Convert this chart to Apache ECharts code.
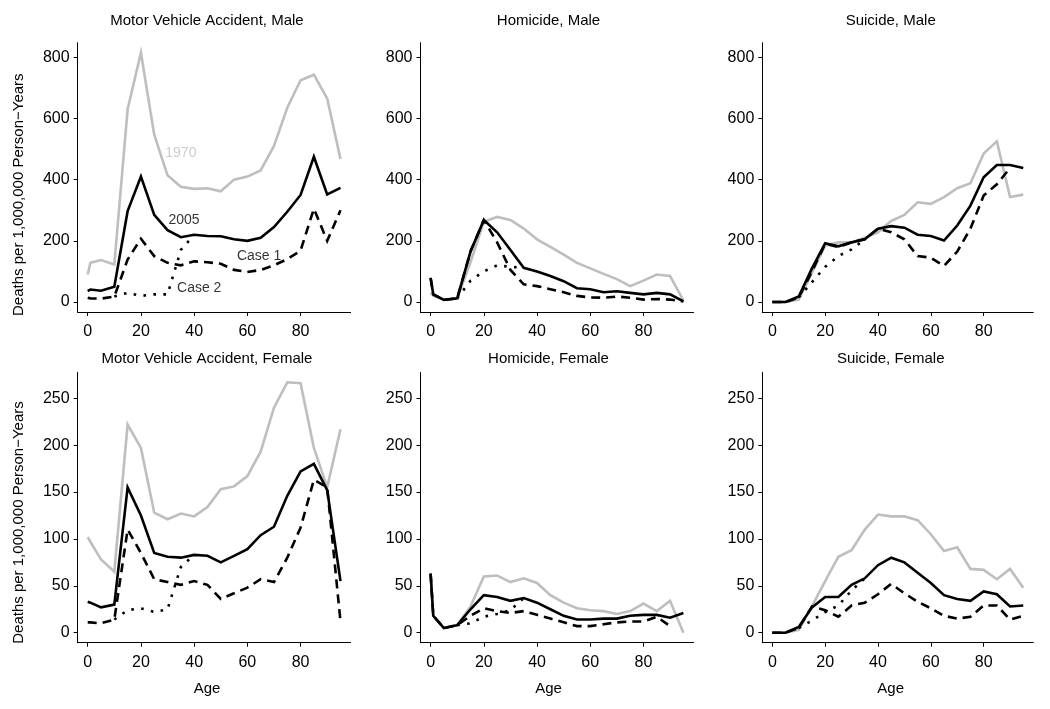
<!DOCTYPE html>
<html>
<head>
<meta charset="utf-8">
<script src="https://cdn.jsdelivr.net/npm/echarts@6/dist/echarts.min.js"></script>
<style>
html,body{margin:0;padding:0;background:#fff;}
#chart{width:1050px;height:709px;}
</style>
</head>
<body>
<div id="chart"></div>
<script>
// ---- data ----
const ages = [0,1,5,10,15,20,25,30,35,40,45,50,55,60,65,70,75,80,85,90,95];

const mvaMale1970  = [90,128,137,123,630,815,547,414,377,370,372,362,400,410,430,510,635,725,743,665,467];
const mvaMale2005  = [36,41,37,50,297,410,285,235,212,220,216,215,205,200,210,245,295,350,475,352,373];
const mvaMaleCase1 = [14,12,11,18,139,207,150,128,120,133,130,125,105,98,105,120,140,168,305,200,300];
const mvaMaleCase2 = [null,null,null,18,30,20,25,25,170,220,null,null,null,null,null,null,null,null,null,null,null];

const homMale1970  = [30,20,8,12,130,262,278,268,240,205,180,155,128,110,92,75,52,70,90,85,5];
const homMale2005  = [79,25,7,12,165,268,228,170,112,100,85,68,45,42,32,35,30,25,30,25,2];
const homMaleCase1 = [79,25,7,12,165,268,195,105,58,52,42,32,20,15,14,18,14,8,10,8,2];
const homMaleCase2 = [null,null,null,12,70,100,120,115,112,null,null,null,null,null,null,null,null,null,null,null,null];

const sucMale1970  = [0,0,0,8,95,185,195,195,210,228,265,285,326,321,343,372,388,485,525,343,351];
const sucMale2005  = [0,0,0,18,110,192,182,195,205,240,248,243,220,216,201,250,315,408,448,448,438];
const sucMaleCase1 = [0,0,0,15,100,190,180,195,205,240,228,205,150,145,118,165,240,348,385,438,null];
const sucMaleCase2 = [null,null,null,15,65,115,150,172,205,null,null,null,null,null,null,null,null,null,null,null,null];

const mvaFemale1970  = [102,97,78,65,222,197,128,121,127,124,134,153,156,167,193,240,267,266,197,155,217];
const mvaFemale2005  = [33,32,27,30,155,125,85,81,80,83,82,75,82,89,104,113,146,172,180,152,55];
const mvaFemaleCase1 = [11,11,10,14,110,85,57,54,51,55,51,36,42,48,57,54,80,112,163,155,12];
const mvaFemaleCase2 = [null,null,null,14,24,26,22,25,70,83,null,null,null,null,null,null,null,null,null,null,null];

const homFemale1970  = [63,18,5,8,28,60,61,54,58,53,40,32,26,24,23,20,23,31,23,34,0];
const homFemale2005  = [63,18,5,8,25,40,38,34,37,32,25,18,14,14,15,15,18,19,19,16,21];
const homFemaleCase1 = [63,18,5,8,18,26,23,21,23,19,15,11,7,7,9,11,12,12,17,7,null];
const homFemaleCase2 = [null,null,null,8,10,17,20,24,37,null,null,null,null,null,null,null,null,null,null,null,null];

const sucFemale1970  = [0,0,0,3,28,55,81,88,110,126,124,124,120,105,87,91,68,67,57,68,48];
const sucFemale2005  = [0,0,0,6,27,38,38,51,58,72,80,75,64,53,40,36,34,44,41,28,29];
const sucFemaleCase1 = [0,0,0,5,28,24,17,29,32,41,52,42,33,26,18,15,17,29,29,14,18];
const sucFemaleCase2 = [null,null,null,5,13,22,29,45,58,null,null,null,null,null,null,null,null,null,null,null,null];

const panelTitles = ["Motor Vehicle Accident, Male","Homicide, Male","Suicide, Male",
                     "Motor Vehicle Accident, Female","Homicide, Female","Suicide, Female"];
const seriesNames = ["1970","2005","Case 1","Case 2"];
const xTicks = [0,20,40,60,80];
const yTicksMale = [0,200,400,600,800];
const yTicksFemale = [0,50,100,150,200,250];
const xLim = [0,95];
const yLimMale = [0,815];
const yLimFemale = [0,267];
const yAxisTitle = "Deaths per 1,000,000 Person\u2212Years";
const xAxisTitle = "Age";

// annotations in panel 1: [age, value, text]
const annotations = [[35,486,"1970"],[36.2,267,"2005"],[64.4,149,"Case 1"],[41.9,46,"Case 2"]];

const panels = [
  [mvaMale1970, mvaMale2005, mvaMaleCase1, mvaMaleCase2],
  [homMale1970, homMale2005, homMaleCase1, homMaleCase2],
  [sucMale1970, sucMale2005, sucMaleCase1, sucMaleCase2],
  [mvaFemale1970, mvaFemale2005, mvaFemaleCase1, mvaFemaleCase2],
  [homFemale1970, homFemale2005, homFemaleCase1, homFemaleCase2],
  [sucFemale1970, sucFemale2005, sucFemaleCase1, sucFemaleCase2]
];

// ---- layout / style ----
const FONT = "'Liberation Sans', Arial, Helvetica, sans-serif";
const GRAY = "#bebebe";
const lefts = [77.6, 420.5, 762.3];
const widths = [273, 273, 271];
const tops = [42.7, 372.3];
const heights = [269.3, 270.4];
const titleX = [207, 548.5, 890.7];
const titleY = [20.5, 359];
const ageY = 689;
const yTitleX = 18.5;
const yTitleY = [194.7, 522.5];

function expand(lim){ const d = (lim[1]-lim[0])*0.04; return [lim[0]-d, lim[1]+d]; }

const grid = [], xAxis = [], yAxis = [], series = [], graphic = [];
for (let p = 0; p < 6; p++) {
  const r = Math.floor(p/3), c = p % 3;
  grid.push({left: lefts[c], top: tops[r], width: widths[c], height: heights[r], containLabel: false});
  const xr = expand(xLim);
  const yr = expand(r === 0 ? yLimMale : yLimFemale);
  const yt = r === 0 ? yTicksMale : yTicksFemale;
  xAxis.push({
    type: 'value', gridIndex: p, min: xr[0], max: xr[1],
    axisLine: {show: true, onZero: false, lineStyle: {color: '#000', width: 1}},
    axisTick: {show: true, length: 4, customValues: xTicks, lineStyle: {color: '#000'}},
    axisLabel: {show: true, customValues: xTicks, fontSize: 16, fontFamily: FONT, color: '#000', margin: 12},
    splitLine: {show: false}
  });
  yAxis.push({
    type: 'value', gridIndex: p, min: yr[0], max: yr[1],
    axisLine: {show: true, onZero: false, lineStyle: {color: '#000', width: 1}},
    axisTick: {show: true, length: 4, customValues: yt, lineStyle: {color: '#000'}},
    axisLabel: {show: true, customValues: yt, fontSize: 16, fontFamily: FONT, color: '#000', margin: 8},
    splitLine: {show: false}
  });
  const d = panels[p];
  const styles = [
    {color: GRAY, width: 2.6, type: 'solid'},
    {color: '#000', width: 2.6, type: 'solid'},
    {color: '#000', width: 2.6, type: [9, 6]},
    {color: '#000', width: 2.6, type: [2.6, 7.4]}
  ];
  for (let s = 0; s < 4; s++) {
    series.push({
      type: 'line', name: seriesNames[s], xAxisIndex: p, yAxisIndex: p,
      data: ages.map((a, i) => [a, d[s][i]]),
      showSymbol: false, symbol: 'none', connectNulls: false, silent: true,
      lineStyle: Object.assign({cap: 'butt', join: 'miter'}, styles[s]),
      z: 2 + s
    });
  }
  graphic.push({type: 'text', x: titleX[c], y: titleY[r],
    style: {text: panelTitles[p], font: '15px ' + FONT, fill: '#000', textAlign: 'center', textVerticalAlign: 'middle'}});
  if (r === 1) {
    graphic.push({type: 'text', x: titleX[c], y: ageY,
      style: {text: xAxisTitle, font: '15px ' + FONT, fill: '#000', textAlign: 'center', textVerticalAlign: 'middle'}});
  }
  if (c === 0) {
    graphic.push({type: 'text', x: yTitleX, y: yTitleY[r], rotation: Math.PI/2,
      style: {text: yAxisTitle, font: '15px ' + FONT, fill: '#000', textAlign: 'center', textVerticalAlign: 'middle'}});
  }
}

// annotation labels in panel 1
series.push({
  type: 'scatter', xAxisIndex: 0, yAxisIndex: 0, symbolSize: 0, silent: true, z: 10,
  data: annotations.map(a => ({value: [a[0], a[1]], name: a[2],
    label: {color: a[2] === "1970" ? GRAY : '#000'}})),
  label: {show: true, position: 'inside', formatter: p => p.name, fontSize: 14, fontFamily: FONT,
    align: 'center', verticalAlign: 'middle'}
});

const chart = echarts.init(document.getElementById('chart'), null, {renderer: 'canvas'});
chart.setOption({animation: false, backgroundColor: '#fff', grid, xAxis, yAxis, series, graphic});
</script>
</body>
</html>
